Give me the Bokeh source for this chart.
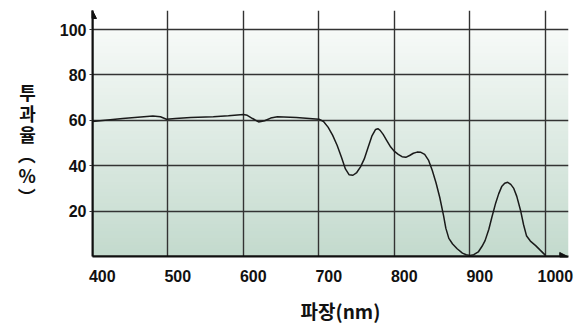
import numpy as np
from bokeh.plotting import figure
from bokeh.models import Range1d, LinearAxis, FixedTicker, Grid, Arrow, NormalHead, Title
from bokeh.embed import file_html
from bokeh.resources import INLINE

# ---- data ----
wavelength = [400, 420, 440, 460, 480, 490, 498, 510, 530, 560, 580, 600, 605, 612, 620,
              628, 636, 645, 670, 700, 706, 712, 718, 724, 730, 735, 740, 745, 750, 755,
              760, 765, 770, 775, 778, 781, 785, 790, 795, 800, 805, 810, 815, 820, 825,
              830, 835, 840, 845, 850, 855, 860, 865, 868, 872, 877, 883, 890, 895, 900,
              905, 911, 916, 920, 925, 929, 934, 938, 942, 946, 950, 954, 958, 962, 967,
              971, 975, 980, 987, 993, 1000]
transmission = [59.5, 60.2, 60.8, 61.4, 61.9, 61.6, 60.5, 60.8, 61.3, 61.6, 62.0, 62.6, 62.2, 60.8, 59.3,
                59.8, 61.0, 61.6, 61.3, 60.5, 59.5, 57.0, 53.5, 49.0, 43.5, 38.6, 36.0, 35.8, 37.0, 39.5,
                43.0, 48.0, 53.0, 56.0, 56.3, 55.6, 53.8, 51.0, 48.2, 46.3, 45.0, 44.0, 43.7, 44.5, 45.5,
                46.0, 45.9, 45.0, 42.5, 38.0, 32.5, 26.0, 18.0, 12.5, 8.0, 5.5, 3.4, 1.5, 0.8, 0.5,
                0.8, 2.0, 4.5, 7.0, 12.0, 17.3, 23.5, 27.6, 30.8, 32.3, 32.7, 31.8, 30.0, 26.5, 20.3,
                14.0, 9.0, 6.8, 4.8, 2.8, 0.5]
x_ticks = [400, 500, 600, 700, 800, 900, 1000]
y_ticks = [20, 40, 60, 80, 100]
x_title = "파장(nm)"
y_title_chars = ["투", "과", "율", "︵", "%", "︶"]

X0, X1 = 400, 1030.5
Y0, Y1 = 0, 108.4
TICK_FONT = "Liberation Sans"
KR_FONT = "Noto Sans CJK KR"

p = figure(width=580, height=334, x_range=Range1d(X0, X1), y_range=Range1d(Y0, Y1),
           x_axis_location=None, output_backend="svg", toolbar_location=None,
           min_border_left=92, min_border_right=12, min_border_top=10, min_border_bottom=78)
p.outline_line_color = None
p.background_fill_color = "white"
p.border_fill_color = "white"
p.grid.grid_line_color = None

# gradient background (styling)
rows = 64
top = np.array([247, 250, 248], dtype=float)
bot = np.array([196, 219, 206], dtype=float)
t = np.linspace(0, 1, rows)[:, None]
cols = (bot * (1 - t) + top * t).astype(np.uint8)
img = np.empty((rows, 2), dtype=np.uint32)
view = img.view(dtype=np.uint8).reshape((rows, 2, 4))
view[:, :, 0] = cols[:, 0][:, None]
view[:, :, 1] = cols[:, 1][:, None]
view[:, :, 2] = cols[:, 2][:, None]
view[:, :, 3] = 255
r_img = p.image_rgba(image=[img], x=X0, y=0, dw=X1 - X0, dh=100)
r_img.level = "image"

# grids
p.add_layout(Grid(dimension=0, ticker=FixedTicker(ticks=x_ticks[1:]),
                  grid_line_color="#333333", grid_line_width=1.4))
p.add_layout(Grid(dimension=1, ticker=FixedTicker(ticks=y_ticks),
                  grid_line_color="#333333", grid_line_width=1.4))

# curve
p.line(wavelength, transmission, line_color="#1a1a1a", line_width=1.5)

# y axis
ya = p.yaxis[0]
ya.ticker = FixedTicker(ticks=y_ticks)
ya.axis_line_width = 2
ya.axis_line_color = "#111111"
ya.major_tick_out = 3
ya.major_tick_in = 0
ya.major_tick_line_color = "#333333"
ya.minor_tick_line_color = None
ya.major_label_standoff = 3
ya.major_label_text_font = TICK_FONT
ya.major_label_text_font_style = "bold"
ya.major_label_text_font_size = "16px"
ya.major_label_text_color = "#111111"
ya.axis_label = "\n".join([" "] + y_title_chars)
ya.axis_label_text_font = KR_FONT
ya.axis_label_text_font_style = "bold"
ya.axis_label_text_font_size = "18px"
ya.axis_label_text_line_height = 0.8
ya.axis_label_text_color = "#111111"
ya.axis_label_standoff = 21
try:
    ya.axis_label_orientation = "horizontal"
except Exception:
    pass

# x axis (labels sit slightly right of their grid lines in the reference)
p.extra_x_ranges = {"lbl": Range1d(X0 - 13, X1 - 13)}
xa = LinearAxis(x_range_name="lbl", ticker=FixedTicker(ticks=x_ticks))
xa.axis_line_width = 2
xa.axis_line_color = "#111111"
xa.major_tick_out = 0
xa.major_tick_in = 0
xa.minor_tick_line_color = None
xa.major_label_standoff = 13
xa.major_label_text_font = TICK_FONT
xa.major_label_text_font_style = "bold"
xa.major_label_text_font_size = "16px"
xa.major_label_text_color = "#111111"
p.add_layout(xa, "below")

p.add_layout(Title(text=x_title, align="left", offset=208, standoff=20,
                   text_font=KR_FONT, text_font_style="bold", text_font_size="19px",
                   text_line_height=0.9, text_color="#111111"), "below")

# arrow heads on the axes
p.add_layout(Arrow(end=NormalHead(size=8, fill_color="#111111", line_color="#111111"),
                   x_start=X0, y_start=0, x_end=X0, y_end=Y1, line_color="#111111", line_width=2))
p.add_layout(Arrow(end=NormalHead(size=8, fill_color="#111111", line_color="#111111"),
                   x_start=X0, y_start=0, x_end=X1 - 1, y_end=0, line_color="#111111", line_width=2))

open("out.html", "w").write(file_html(p, INLINE))
